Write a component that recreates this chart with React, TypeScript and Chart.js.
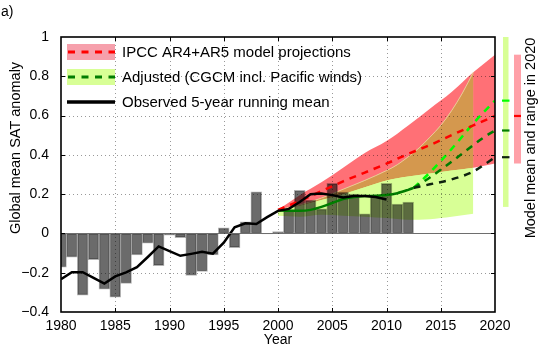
import React, { useEffect, useRef } from "react";
import { Chart, registerables } from "chart.js";
Chart.register(...registerables);

const FONT = "'Liberation Sans', Arial, Helvetica, sans-serif";

// ---------- data ----------
const barYears = [1980, 1981, 1982, 1983, 1984, 1985, 1986, 1987, 1988, 1989, 1990, 1991, 1992, 1993, 1994, 1995, 1996, 1997, 1998, 1999, 2000, 2001, 2002, 2003, 2004, 2005, 2006, 2007, 2008, 2009, 2010, 2011, 2012];
const barValues = [-0.172, -0.121, -0.314, -0.133, -0.284, -0.324, -0.255, -0.11, -0.05, -0.164, -0.009, -0.021, -0.214, -0.193, -0.11, 0.028, -0.072, 0.059, 0.212, -0.003, 0.01, 0.12, 0.22, 0.17, 0.125, 0.255, 0.21, 0.2, 0.1, 0.19, 0.255, 0.15, 0.16];

const obsYears = [1980, 1981, 1982, 1983, 1984, 1985, 1986, 1987, 1988, 1989, 1990, 1991, 1992, 1993, 1994, 1995, 1996, 1997, 1998, 1999, 2000, 2001, 2002, 2003, 2004, 2005, 2006, 2007, 2008, 2009, 2010];
const obsValues = [-0.233, -0.197, -0.197, -0.226, -0.255, -0.219, -0.198, -0.172, -0.12, -0.066, -0.09, -0.114, -0.104, -0.093, -0.103, -0.047, 0.031, 0.052, 0.048, 0.083, 0.115, 0.125, 0.16, 0.2, 0.203, 0.195, 0.183, 0.19, 0.19, 0.185, 0.173];

const ipccYears = [2000, 2002, 2004, 2006, 2008, 2010, 2012, 2014, 2016, 2018, 2020];
const ipccMean = [0.12, 0.165, 0.215, 0.265, 0.31, 0.355, 0.405, 0.45, 0.5, 0.55, 0.598];
const ipccUpper = [0.12, 0.195, 0.26, 0.335, 0.41, 0.47, 0.55, 0.635, 0.72, 0.82, 0.91];
const ipccLower = [0.12, 0.14, 0.17, 0.2, 0.235, 0.27, 0.29, 0.305, 0.32, 0.335, 0.356];

const adjYears = [2000, 2001, 2002, 2003, 2004, 2005, 2006, 2007, 2008, 2009, 2010, 2011, 2012, 2012.5];
const adjMean = [0.117, 0.115, 0.115, 0.12, 0.135, 0.155, 0.175, 0.185, 0.19, 0.192, 0.196, 0.205, 0.222, 0.232];

const adjBandYears = [2000, 2002, 2004, 2006, 2008, 2010, 2011, 2012, 2013, 2014, 2015, 2016, 2017, 2018];
const adjUpper = [0.12, 0.145, 0.18, 0.225, 0.27, 0.32, 0.35, 0.39, 0.435, 0.49, 0.55, 0.625, 0.715, 0.82];
const adjLower = [0.09, 0.085, 0.095, 0.09, 0.085, 0.078, 0.074, 0.07, 0.07, 0.072, 0.078, 0.085, 0.092, 0.1];

const scenYears = [2012.5, 2014, 2016, 2018, 2019, 2020];
const scenFast = [0.232, 0.31, 0.43, 0.56, 0.62, 0.676];
const scenMid = [0.232, 0.285, 0.365, 0.45, 0.49, 0.524];
const scenSlow = [0.232, 0.25, 0.275, 0.315, 0.35, 0.388];

const adjRange2020 = [0.135, 1.0];
const ipccRange2020 = [0.356, 0.91];

const xTickValues = [1980, 1985, 1990, 1995, 2000, 2005, 2010, 2015, 2020];
const xTickLabels = ["1980", "1985", "1990", "1995", "2000", "2005", "2010", "2015", "2020"];
const yTickValues = [-0.4, -0.2, 0, 0.2, 0.4, 0.6, 0.8, 1];
const yTickLabels = ["\u22120.4", "\u22120.2", "0", "0.2", "0.4", "0.6", "0.8", "1"];

const legendLabels = ["IPCC AR4+AR5 model projections", "Adjusted (CGCM incl. Pacific winds)", "Observed 5-year running mean"];

// ---------- colours ----------
const RED_BAND = "rgb(255,112,118)";
const GREEN_BAND = "rgb(216,255,150)";
const BROWN = "rgb(212,152,78)";
const TAN = "rgb(236,200,150)";
const RED = "rgb(255,0,0)";
const DKGREEN = "rgb(0,125,0)";
const LTGREEN = "rgb(0,255,0)";
const BLACKISH = "rgb(15,35,15)";

const pts = (xs: number[], ys: number[]) => xs.map((x, i) => ({ x, y: ys[i] }));

const decor = {
  id: "decor",
  afterDatasetsDraw(chart: any) {
    const { ctx, chartArea: a, scales } = chart;
    const x = scales.x, y = scales.y;
    ctx.save();
    // zero baseline
    ctx.strokeStyle = "rgb(110,110,110)";
    ctx.lineWidth = 1;
    const y0 = Math.round(y.getPixelForValue(0)) + 0.5;
    ctx.beginPath(); ctx.moveTo(a.left, y0); ctx.lineTo(a.right, y0); ctx.stroke();
    // dotted grid
    ctx.setLineDash([1, 3]);
    ctx.strokeStyle = "rgba(0,0,0,0.4)";
    xTickValues.slice(1, -1).forEach((v) => {
      const px = Math.round(x.getPixelForValue(v)) + 0.5;
      ctx.beginPath(); ctx.moveTo(px, a.top); ctx.lineTo(px, a.bottom); ctx.stroke();
    });
    yTickValues.slice(1, -1).forEach((v) => {
      if (v === 0) return;
      const py = Math.round(y.getPixelForValue(v)) + 0.5;
      ctx.beginPath(); ctx.moveTo(a.left, py); ctx.lineTo(a.right, py); ctx.stroke();
    });
    ctx.restore();
  },
  afterDraw(chart: any) {
    const { ctx, chartArea: a, scales } = chart;
    const x = scales.x, y = scales.y;
    ctx.save();
    // box
    ctx.strokeStyle = "#000";
    ctx.lineWidth = 1.6;
    ctx.strokeRect(a.left, a.top, a.right - a.left, a.bottom - a.top);
    // inward ticks
    ctx.lineWidth = 1;
    const tl = 4;
    xTickValues.slice(1, -1).forEach((v) => {
      const px = Math.round(x.getPixelForValue(v)) + 0.5;
      ctx.beginPath();
      ctx.moveTo(px, a.bottom); ctx.lineTo(px, a.bottom - tl);
      ctx.moveTo(px, a.top); ctx.lineTo(px, a.top + tl);
      ctx.stroke();
    });
    yTickValues.slice(1, -1).forEach((v) => {
      const py = Math.round(y.getPixelForValue(v)) + 0.5;
      ctx.beginPath();
      ctx.moveTo(a.left, py); ctx.lineTo(a.left + tl, py);
      ctx.moveTo(a.right, py); ctx.lineTo(a.right - tl, py);
      ctx.stroke();
    });

    // legend
    const lx = 67, lw = 48;
    ctx.fillStyle = "rgb(246,160,172)";
    ctx.fillRect(lx, 44, lw, 16);
    ctx.fillStyle = GREEN_BAND;
    ctx.fillRect(lx, 69, lw, 16);
    ctx.lineWidth = 3;
    ctx.setLineDash([7, 6.5]);
    ctx.strokeStyle = RED;
    ctx.beginPath(); ctx.moveTo(lx + 1, 52); ctx.lineTo(lx + lw, 52); ctx.stroke();
    ctx.strokeStyle = DKGREEN;
    ctx.beginPath(); ctx.moveTo(lx + 1, 77); ctx.lineTo(lx + lw, 77); ctx.stroke();
    ctx.setLineDash([]);
    ctx.lineWidth = 3.5;
    ctx.strokeStyle = "#000";
    ctx.beginPath(); ctx.moveTo(lx, 102); ctx.lineTo(lx + lw, 102); ctx.stroke();
    ctx.fillStyle = "#000";
    ctx.font = `15px ${FONT}`;
    ctx.textBaseline = "middle";
    ctx.textAlign = "left";
    ctx.fillText(legendLabels[0], 122, 52.5);
    ctx.fillText(legendLabels[1], 122, 77.5);
    ctx.fillText(legendLabels[2], 122, 102.5);

    // 2020 range bars
    const gTop = y.getPixelForValue(adjRange2020[1]);
    const gBot = y.getPixelForValue(adjRange2020[0]);
    ctx.fillStyle = GREEN_BAND;
    ctx.fillRect(503, gTop, 5.5, gBot - gTop);
    const rTop = y.getPixelForValue(ipccRange2020[1]);
    const rBot = y.getPixelForValue(ipccRange2020[0]);
    ctx.fillStyle = "rgb(255,160,168)";
    ctx.fillRect(514, rTop, 7, rBot - rTop);
    const mark = (x0: number, x1: number, v: number, c: string) => {
      const py = y.getPixelForValue(v);
      ctx.strokeStyle = c; ctx.lineWidth = 2.2;
      ctx.beginPath(); ctx.moveTo(x0, py); ctx.lineTo(x1, py); ctx.stroke();
    };
    mark(502, 509.5, scenFast[scenFast.length - 1], LTGREEN);
    mark(502, 509.5, scenMid[scenMid.length - 1], DKGREEN);
    mark(502, 509.5, scenSlow[scenSlow.length - 1], BLACKISH);
    mark(514, 521, ipccMean[ipccMean.length - 1], RED);

    // texts
    ctx.fillStyle = "#000";
    ctx.font = `14.5px ${FONT}`;
    ctx.textAlign = "center";
    ctx.textBaseline = "middle";
    ctx.save();
    ctx.translate(531, 138);
    ctx.rotate(-Math.PI / 2);
    ctx.fillText("Model mean and range in 2020", 0, 0);
    ctx.restore();
    ctx.save();
    ctx.translate(15.5, 148);
    ctx.rotate(-Math.PI / 2);
    ctx.fillText("Global mean SAT anomaly", 0, 0);
    ctx.restore();
    ctx.font = `14px ${FONT}`;
    ctx.fillText("Year", (a.left + a.right) / 2, 340);
    ctx.textAlign = "left";
    ctx.fillText("a)", 1, 12);
    ctx.restore();
  },
};

export default function App() {
  const ref = useRef<HTMLCanvasElement | null>(null);
  useEffect(() => {
    if (!ref.current) return;
    const lineBase = { type: "line" as const, pointRadius: 0, pointHoverRadius: 0 };
    const chart = new Chart(ref.current, {
      type: "line",
      data: {
        datasets: [
          { ...lineBase, label: "ipccUpper", data: pts(ipccYears, ipccUpper), borderWidth: 0, borderColor: "rgba(0,0,0,0)", backgroundColor: RED_BAND, fill: { target: 1 }, order: 20, cubicInterpolationMode: "monotone" },
          { ...lineBase, label: "ipccLower", data: pts(ipccYears, ipccLower), borderWidth: 0, borderColor: "rgba(0,0,0,0)", fill: false, order: 20, cubicInterpolationMode: "monotone" },
          { ...lineBase, label: "adjUpper", data: pts(adjBandYears, adjUpper), borderWidth: 0, borderColor: "rgba(0,0,0,0)", backgroundColor: GREEN_BAND, fill: { target: 3 }, order: 19, cubicInterpolationMode: "monotone" },
          { ...lineBase, label: "adjLower", data: pts(adjBandYears, adjLower), borderWidth: 0, borderColor: "rgba(0,0,0,0)", fill: false, order: 19, cubicInterpolationMode: "monotone" },
          { ...lineBase, label: "overlap", data: pts(adjBandYears, adjUpper), borderWidth: 1, borderColor: TAN, fill: { target: 1, above: BROWN, below: "rgba(0,0,0,0)" }, order: 18, cubicInterpolationMode: "monotone" },
          { type: "bar", label: "annual", data: pts(barYears, barValues), backgroundColor: "rgba(0,0,0,0.58)", borderColor: "rgba(0,0,0,0.3)", borderWidth: 1, borderSkipped: false, barPercentage: 1, categoryPercentage: 1, order: 10, clip: 0 } as any,
          { ...lineBase, label: "ipccMean", data: pts(ipccYears, ipccMean), borderColor: RED, borderWidth: 2.5, borderDash: [7, 6], fill: false, order: 2, cubicInterpolationMode: "monotone" },
          { ...lineBase, label: "adjMean", data: pts(adjYears, adjMean), borderColor: DKGREEN, borderWidth: 2.5, fill: false, order: 2, cubicInterpolationMode: "monotone" },
          { ...lineBase, label: "scenSlow", data: pts(scenYears, scenSlow), borderColor: BLACKISH, borderWidth: 2.5, borderDash: [7, 6], fill: false, order: 2, cubicInterpolationMode: "monotone" },
          { ...lineBase, label: "scenMid", data: pts(scenYears, scenMid), borderColor: DKGREEN, borderWidth: 2.5, borderDash: [7, 6], fill: false, order: 2, cubicInterpolationMode: "monotone" },
          { ...lineBase, label: "scenFast", data: pts(scenYears, scenFast), borderColor: LTGREEN, borderWidth: 2.5, borderDash: [7, 6], fill: false, order: 2, cubicInterpolationMode: "monotone" },
          { ...lineBase, label: "observed", data: pts(obsYears, obsValues), borderColor: "#000", borderWidth: 2.5, fill: false, order: 1, tension: 0 },
        ] as any,
      },
      options: {
        responsive: false,
        animation: false,
        devicePixelRatio: 1,
        layout: { padding: { top: 37, right: 49, left: 0, bottom: 0 } },
        plugins: { legend: { display: false }, tooltip: { enabled: false } },
        scales: {
          x: {
            type: "linear", min: 1980, max: 2020, offset: false,
            grid: { display: false }, border: { display: false },
            afterFit: (s: any) => { s.height = 41; },
            afterBuildTicks: (s: any) => { s.ticks = xTickValues.map((v) => ({ value: v })); },
            ticks: {
              padding: -2, color: "#000", font: { family: FONT, size: 14 }, maxRotation: 0, autoSkip: false,
              callback: (v: any) => { const i = xTickValues.indexOf(Number(v)); return i >= 0 ? xTickLabels[i] : ""; },
            },
          },
          y: {
            type: "linear", min: -0.4, max: 1,
            grid: { display: false }, border: { display: false },
            afterFit: (s: any) => { s.width = 61; },
            afterBuildTicks: (s: any) => { s.ticks = yTickValues.map((v) => ({ value: v })); },
            ticks: {
              padding: 4, color: "#000", font: { family: FONT, size: 14 }, autoSkip: false,
              callback: (v: any) => { const i = yTickValues.findIndex((t) => Math.abs(t - Number(v)) < 1e-6); return i >= 0 ? yTickLabels[i] : ""; },
            },
          },
        },
      } as any,
      plugins: [decor as any],
    });
    return () => chart.destroy();
  }, []);
  return (
    <div style={{ position: "absolute", left: 0, top: 0, width: 544, height: 353, background: "#fff" }}>
      <canvas ref={ref} width={544} height={353} style={{ display: "block", width: 544, height: 353 }} />
    </div>
  );
}
